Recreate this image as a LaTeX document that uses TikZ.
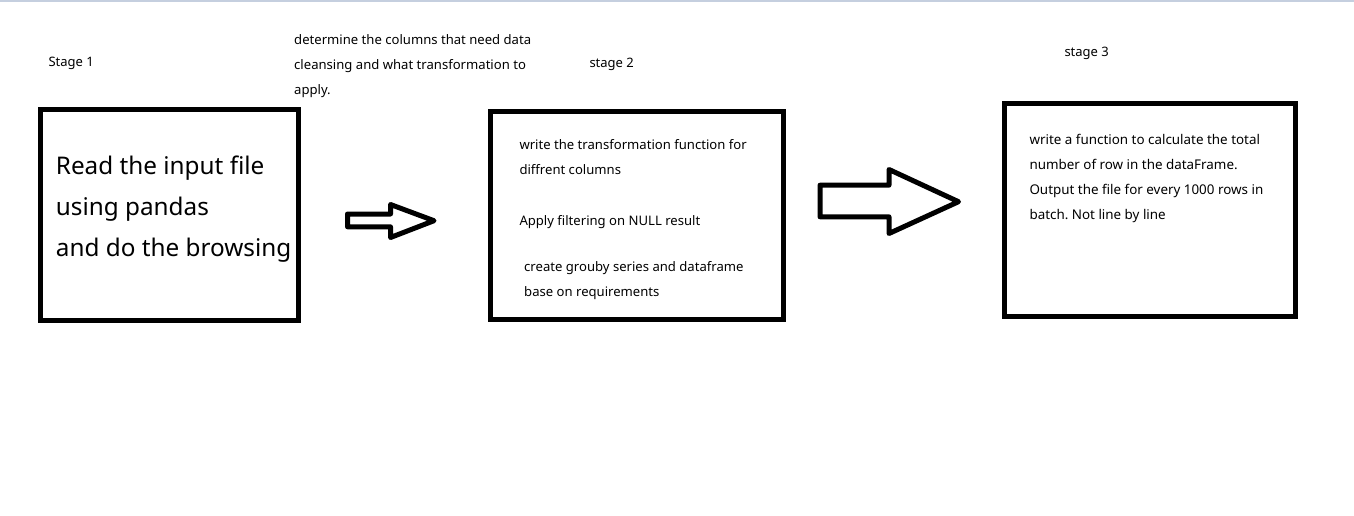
\documentclass[tikz,border=0pt]{standalone}
\usepackage{fontspec}
\setmainfont{Noto Sans}
\frenchspacing
\definecolor{topline}{RGB}{197,207,223}
\begin{document}
\begin{tikzpicture}[x=1pt,y=-1pt,
  box/.style={draw=black,line width=5pt,inner sep=0pt},
  bigarrow/.style={draw=black,line width=5pt,line join=round,fill=white},
  bigtxt/.style={anchor=base west,inner sep=0pt,align=left,font=\fontsize{24.3}{41}\selectfont},
  txt/.style={anchor=base west,inner sep=0pt,align=left,font=\fontsize{13.1}{25}\selectfont},
  stagetxt/.style={anchor=base west,inner sep=0pt,font=\fontsize{13}{15}\selectfont}]
\useasboundingbox (0,0) rectangle (1354,516);
\fill[white] (0,0) rectangle (1354,516);
\fill[topline] (0,0) rectangle (1354,2);
% boxes
\node[box,minimum width=257.7pt,minimum height=210.4pt] (b1) at (169.65,215) {};
\node[box,minimum width=292.4pt,minimum height=208pt] (b2) at (637,215.8) {};
\node[box,minimum width=290.4pt,minimum height=213.3pt] (b3) at (1150,210.15) {};
% stage labels
\node[stagetxt] (s1) at (48.3,66.7) {Stage 1};
\node[stagetxt] (s2) at (589.3,67.3) {stage 2};
\node[stagetxt] (s3) at (1064.3,56.7) {stage 3};
% top note (anchored at last baseline)
\node[txt] (note) at (294,94.3) {determine the columns that need data\\cleansing and what transformation to\\apply.};
% box 1 text
\node[bigtxt] (t1) at (55.7,256) {Read the input file\\using pandas\\and do the browsing};
% box 2 text
\node[txt] (t2a) at (519.3,175) {write the transformation function for\\diffrent columns};
\node[txt] (t2b) at (519.3,225) {Apply filtering on NULL result};
\node[txt] (t2c) at (524,296.7) {create grouby series and dataframe\\base on requirements};
% box 3 text
\node[txt,font=\fontsize{13.4}{25}\selectfont] (t3) at (1029.3,219) {write a function to calculate the total\\number of row in the dataFrame.\\Output the file for every 1000 rows in\\batch. Not line by line};
% arrows
\draw[bigarrow] (347.5,214) -- (390.5,214) -- (390.5,204.5) -- (434,220.7) -- (390.5,237.5) -- (390.5,226.8) -- (347.5,226.8) -- cycle;
\draw[bigarrow] (820,185.2) -- (889,185.2) -- (889,169.5) -- (958.5,201.7) -- (889,233.5) -- (889,216.8) -- (820,216.8) -- cycle;
\end{tikzpicture}
\end{document}
